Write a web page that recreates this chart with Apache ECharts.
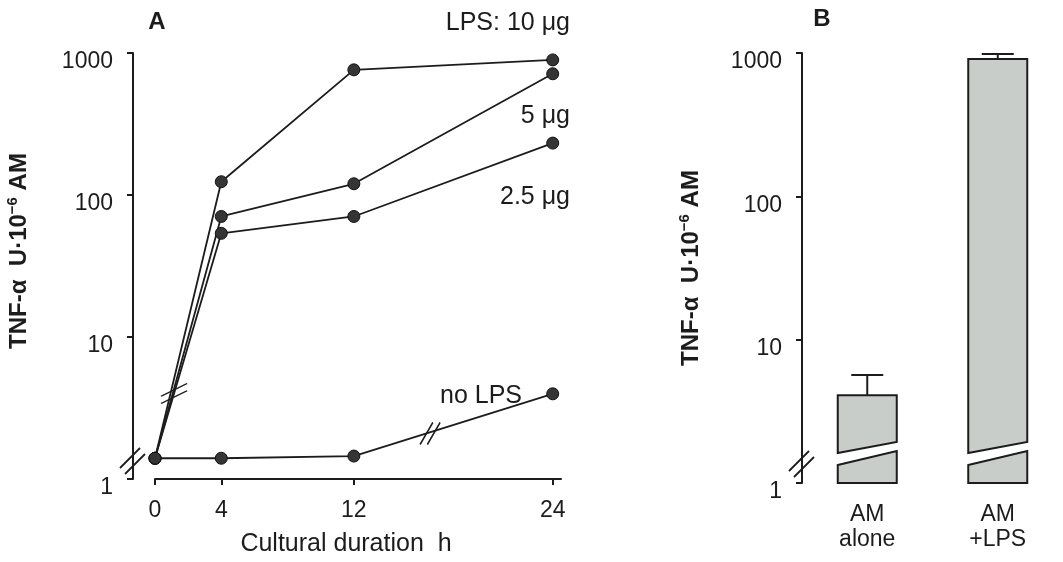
<!DOCTYPE html>
<html lang="en">
<head>
    <meta charset="UTF-8">
    <title>TNF-alpha</title>
    <script src="https://cdn.jsdelivr.net/npm/echarts@6/dist/echarts.min.js"></script>
</head>
<style>
    html, body { margin: 0; padding: 0; background: #fff; }
    #main { width: 1063px; height: 562px; }
</style>
<body>
<div id="main"></div>
<script>
    // panel A: time course (h) and TNF-a values
    var hours = [0, 4, 12, 24];
    var lps10 = [1.40, 124, 761, 894];
    var lps5 = [1.40, 70.6, 120, 714];
    var lps2_5 = [1.40, 53.7, 70.6, 232];
    var noLps = [1.40, 1.40, 1.45, 3.98];
    var xTicks = [0, 4, 12, 24];

    // panel B: bars with error
    var barCats = ['AM\nalone', 'AM\n+LPS'];
    var barValues = [4.1, 908];
    var barErrors = [5.67, 984];

    var ink = '#1c1c1c';
    var font = 'Liberation Sans';

    function pairs(xs, ys) {
        var out = [];
        for (var i = 0; i < xs.length; i++) out.push([xs[i], ys[i]]);
        return out;
    }

    var yTitle = '{b|TNF-α  U·10}{s|−6}{b| AM}';
    var yTitleRich = {
        b: { fontFamily: font, fontSize: 24, fontWeight: 'bold', color: ink, lineHeight: 28 },
        s: { fontFamily: font, fontSize: 15, fontWeight: 'bold', color: ink, lineHeight: 14, verticalAlign: 'top' }
    };

    function logAxis(grid, offset, gap, pad) {
        return {
            type: 'log', logBase: 10, min: 1, max: 1000, gridIndex: grid, offset: offset,
            name: yTitle, nameLocation: 'middle', nameGap: gap,
            nameTextStyle: { rich: yTitleRich, padding: pad },
            axisLine: { show: true, onZero: false, lineStyle: { color: ink, width: 2 } },
            axisTick: { show: true, inside: false, length: 6, lineStyle: { color: ink, width: 2 } },
            minorTick: { show: false },
            splitLine: { show: false },
            axisLabel: {
                fontFamily: font, fontSize: 23, color: ink, margin: 20, verticalAlign: 'top', lineHeight: 18,
                formatter: function (v) { return String(Math.round(v)); }
            }
        };
    }

    var breakShallow = 'path://M0,14 L26,0 M0,22 L26,8';
    var breakSteep = 'path://M0,24 L14,0 M8,24 L22,0';
    var breakStyle = { color: 'rgba(0,0,0,0)', borderColor: ink, borderWidth: 1.6 };

    function lineSeries(data, marks) {
        var s = {
            type: 'line', xAxisIndex: 0, yAxisIndex: 0,
            data: pairs(hours, data),
            symbol: 'circle', symbolSize: 12,
            lineStyle: { color: ink, width: 1.8 },
            itemStyle: { color: '#353535', borderColor: '#111', borderWidth: 1 },
            silent: true, z: 3
        };
        if (marks) s.markPoint = marks;
        return s;
    }

    function renderBar(params, api) {
        var cat = api.value(0);
        var top = api.coord([cat, api.value(1)]);
        var base = api.coord([cat, 1]);
        var err = api.coord([cat, api.value(2)]);
        var w = 59, cx = top[0];
        var x0 = cx - w / 2, x1 = cx + w / 2, yt = top[1], yb = base[1];
        var fill = { fill: '#c9cdca', stroke: ink, lineWidth: 2 };
        var stroke = { stroke: ink, lineWidth: 2 };
        return {
            type: 'group',
            children: [
                { type: 'polygon', shape: { points: [[x0, yt], [x1, yt], [x1, yb - 41], [x0, yb - 30]] }, style: fill },
                { type: 'polygon', shape: { points: [[x0, yb - 18], [x1, yb - 32], [x1, yb], [x0, yb]] }, style: fill },
                { type: 'line', shape: { x1: cx, y1: yt, x2: cx, y2: err[1] }, style: stroke },
                { type: 'line', shape: { x1: cx - 16, y1: err[1], x2: cx + 16, y2: err[1] }, style: stroke }
            ]
        };
    }

    var barData = [];
    for (var i = 0; i < barCats.length; i++) barData.push([i, barValues[i], barErrors[i]]);

    var textStyle = { fontFamily: font, fontSize: 25, fill: ink };
    function note(text, x, y, align) {
        return { type: 'text', x: x, y: y, style: Object.assign({ text: text, align: align || 'right', verticalAlign: 'middle' }, textStyle) };
    }
    function panel(text, x, y) {
        return { type: 'text', x: x, y: y, style: { text: text, fontFamily: font, fontSize: 24, fontWeight: 'bold', fill: ink, align: 'center', verticalAlign: 'middle' } };
    }
    function slash(x1, y1, x2, y2) {
        return { type: 'line', shape: { x1: x1, y1: y1, x2: x2, y2: y2 }, style: { stroke: ink, lineWidth: 1.8 }, z: 10 };
    }

    var myChart = echarts.init(document.getElementById('main'));
    var option = {
        backgroundColor: '#fff',
        animation: false,
        grid: [
            { left: 155, top: 53, bottom: 79, width: 406 },
            { left: 802, top: 53, bottom: 79, width: 298 }
        ],
        xAxis: [
            {
                type: 'value', gridIndex: 0, min: 0, max: 24.5,
                name: 'Cultural duration  h', nameLocation: 'middle', nameGap: 52,
                nameTextStyle: { fontFamily: font, fontSize: 25, color: ink, lineHeight: 26, padding: [0, 24, 0, 0] },
                axisLine: { show: true, onZero: false, lineStyle: { color: ink, width: 2 } },
                axisTick: { show: true, inside: false, length: 6, customValues: xTicks, lineStyle: { color: ink, width: 2 } },
                axisLabel: { customValues: xTicks, fontFamily: font, fontSize: 23, color: ink, margin: 19, lineHeight: 26 },
                splitLine: { show: false }
            },
            {
                type: 'category', gridIndex: 1, data: barCats,
                axisLine: { show: false }, axisTick: { show: false },
                axisLabel: { fontFamily: font, fontSize: 23, color: ink, margin: 19, lineHeight: 25 }
            }
        ],
        yAxis: [
            logAxis(0, 22, 100, [0, 0, 0, 30]),
            logAxis(1, 0, 97, [0, 0, 0, 0])
        ],
        series: [
            lineSeries(lps10, {
                symbol: breakShallow, symbolSize: [26, 20], itemStyle: breakStyle, label: { show: false },
                data: [{ coord: [1.15, 4.0] }]
            }),
            lineSeries(lps5),
            lineSeries(lps2_5),
            lineSeries(noLps, {
                symbol: breakSteep, symbolSize: [20, 22], itemStyle: breakStyle, label: { show: false },
                data: [{ coord: [16.6, 2.09] }]
            }),
            {
                type: 'custom', xAxisIndex: 1, yAxisIndex: 1,
                data: barData, renderItem: renderBar, silent: true, z: 3
            }
        ],
        graphic: [
            panel('A', 157, 22),
            panel('B', 822, 19),
            note('LPS: 10 μg', 570, 23),
            note('5 μg', 570, 116),
            note('2.5 μg', 570, 197),
            note('no LPS', 522, 396),
            // axis breaks
            slash(120, 468, 140, 448), slash(125, 474, 145, 454),
            slash(789, 471, 809, 451), slash(794, 477, 814, 457)
        ]
    };
    myChart.setOption(option);
</script>
</body>
</html>
